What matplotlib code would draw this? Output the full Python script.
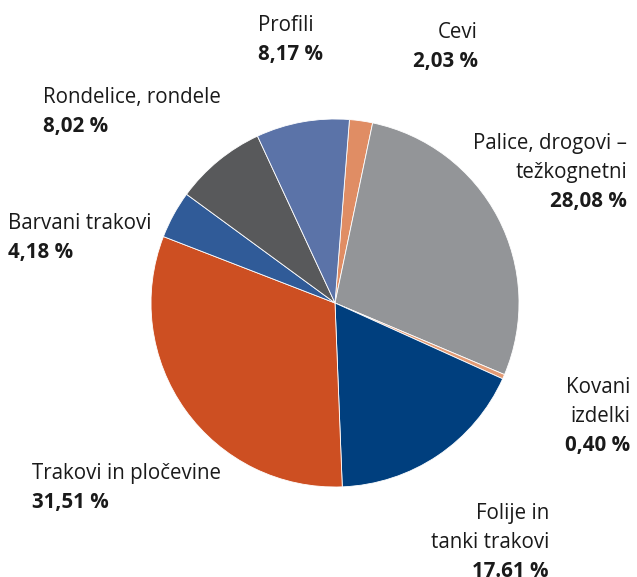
"""Pie chart: share of product groups."""

import matplotlib.pyplot as plt

plt.rcParams["font.family"] = ["Open Sans", "DejaVu Sans"]

W, H = 637, 577

categories = [
    "Cevi",
    "Palice, drogovi –\ntežkognetni",
    "Kovani\nizdelki",
    "Folije in\ntanki trakovi",
    "Trakovi in pločevine",
    "Barvani trakovi",
    "Rondelice, rondele",
    "Profili",
]
shares = [2.03, 28.08, 0.40, 17.61, 31.51, 4.18, 8.02, 8.17]
share_labels = ["2,03 %", "28,08 %", "0,40 %", "17.61 %", "31,51 %", "4,18 %", "8,02 %", "8,17 %"]
colors = ["#E08D64", "#939598", "#E39B75", "#003F7E", "#CD4F22", "#305B98", "#58595B", "#5B73A8"]

# label anchor: (x, baseline of first line in px from top, alignment)
label_pos = [
    (478, 38, "right"),
    (627, 149, "right"),
    (630, 393, "right"),
    (549, 519, "right"),
    (32, 479, "left"),
    (8, 229, "left"),
    (43, 103, "left"),
    (258, 31, "left"),
]
LINE = 29
FS = 14.8
TEXT_COLOR = "#1a1a1a"

fig = plt.figure(figsize=(W / 100, H / 100), dpi=100)
ax = fig.add_axes([0, 0, 1, 1])

ax.pie(
    shares,
    colors=colors,
    center=(335, H - 303),
    radius=184,
    startangle=85.5,
    counterclock=False,
    wedgeprops={"edgecolor": "white", "linewidth": 0.6},
    frame=True,
)
ax.set_xlim(0, W)
ax.set_ylim(0, H)
ax.set_aspect("equal")
ax.axis("off")

for name, pct, (x, y0, ha) in zip(categories, share_labels, label_pos):
    lines = name.split("\n")
    for i, line in enumerate(lines):
        ax.text(x, H - (y0 + i * LINE), line, ha=ha, va="baseline",
                fontsize=FS, color=TEXT_COLOR)
    ax.text(x, H - (y0 + len(lines) * LINE), pct, ha=ha, va="baseline",
            fontsize=FS, fontweight="bold", color=TEXT_COLOR)

fig.savefig("out.png", dpi=100)
